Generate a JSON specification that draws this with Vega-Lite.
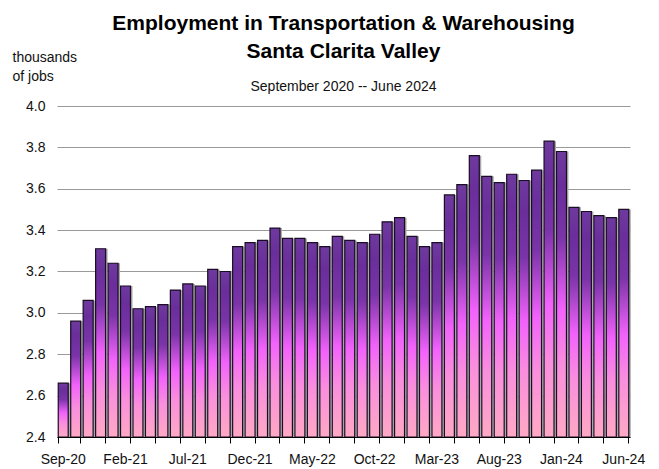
{
  "$schema": "https://vega.github.io/schema/vega-lite/v6.json",
  "autosize": "none",
  "width": 573,
  "height": 331,
  "padding": {"left": 57, "top": 106, "right": 29, "bottom": 32},
  "background": "white",
  "config": {
    "view": {"stroke": null},
    "font": "Liberation Sans",
    "axis": {"labelFont": "Liberation Sans", "titleFont": "Liberation Sans", "labelColor": "#111", "titleColor": "#111"}
  },
  "title": {
    "text": ["Employment in Transportation & Warehousing", "Santa Clarita Valley"],
    "subtitle": "September 2020 -- June 2024",
    "font": "Liberation Sans",
    "fontSize": 21,
    "fontWeight": "bold",
    "lineHeight": 28,
    "color": "#000",
    "subtitleFont": "Liberation Sans",
    "subtitleFontSize": 14,
    "subtitleColor": "#111",
    "subtitlePadding": 18,
    "anchor": "middle",
    "offset": -44
  },
  "data": {
    "values": [
      {"month": "Sep-20", "jobs": 2.66},
      {"month": "Oct-20", "jobs": 2.96},
      {"month": "Nov-20", "jobs": 3.06},
      {"month": "Dec-20", "jobs": 3.31},
      {"month": "Jan-21", "jobs": 3.24},
      {"month": "Feb-21", "jobs": 3.13},
      {"month": "Mar-21", "jobs": 3.02},
      {"month": "Apr-21", "jobs": 3.03},
      {"month": "May-21", "jobs": 3.04},
      {"month": "Jun-21", "jobs": 3.11},
      {"month": "Jul-21", "jobs": 3.14},
      {"month": "Aug-21", "jobs": 3.13},
      {"month": "Sep-21", "jobs": 3.21},
      {"month": "Oct-21", "jobs": 3.20},
      {"month": "Nov-21", "jobs": 3.32},
      {"month": "Dec-21", "jobs": 3.34},
      {"month": "Jan-22", "jobs": 3.35},
      {"month": "Feb-22", "jobs": 3.41},
      {"month": "Mar-22", "jobs": 3.36},
      {"month": "Apr-22", "jobs": 3.36},
      {"month": "May-22", "jobs": 3.34},
      {"month": "Jun-22", "jobs": 3.32},
      {"month": "Jul-22", "jobs": 3.37},
      {"month": "Aug-22", "jobs": 3.35},
      {"month": "Sep-22", "jobs": 3.34},
      {"month": "Oct-22", "jobs": 3.38},
      {"month": "Nov-22", "jobs": 3.44},
      {"month": "Dec-22", "jobs": 3.46},
      {"month": "Jan-23", "jobs": 3.37},
      {"month": "Feb-23", "jobs": 3.32},
      {"month": "Mar-23", "jobs": 3.34},
      {"month": "Apr-23", "jobs": 3.57},
      {"month": "May-23", "jobs": 3.62},
      {"month": "Jun-23", "jobs": 3.76},
      {"month": "Jul-23", "jobs": 3.66},
      {"month": "Aug-23", "jobs": 3.63},
      {"month": "Sep-23", "jobs": 3.67},
      {"month": "Oct-23", "jobs": 3.64},
      {"month": "Nov-23", "jobs": 3.69},
      {"month": "Dec-23", "jobs": 3.83},
      {"month": "Jan-24", "jobs": 3.78},
      {"month": "Feb-24", "jobs": 3.51},
      {"month": "Mar-24", "jobs": 3.49},
      {"month": "Apr-24", "jobs": 3.47},
      {"month": "May-24", "jobs": 3.46},
      {"month": "Jun-24", "jobs": 3.50}
    ]
  },
  "encoding": {
    "x": {
      "field": "month",
      "type": "ordinal",
      "sort": null,
      "scale": {"paddingInner": 0.2, "paddingOuter": 0.1},
      "axis": {
        "title": null,
        "labelAngle": 0,
        "labelFontSize": 14,
        "labelOverlap": false,
        "labelExpr": "indexof(['Sep-20','Feb-21','Jul-21','Dec-21','May-22','Oct-22','Mar-23','Aug-23','Jan-24','Jun-24'], datum.value) >= 0 ? datum.value : ''",
        "labelPadding": 9,
        "domainColor": "#000",
        "domainWidth": 1,
        "tickColor": "#000",
        "tickSize": 6,
        "tickWidth": 1,
        "bandPosition": 1,
        "tickExtra": true,
        "tickOpacity": {"condition": {"test": "datum.extra || test(/^(Oct|Dec|Feb|Apr|Jun|Aug)/, datum.value)", "value": 1}, "value": 0},
        "grid": false,
        "zindex": 1
      }
    },
    "y": {
      "field": "jobs",
      "type": "quantitative",
      "scale": {"domain": [2.4, 4.0], "nice": false, "zero": false},
      "axis": {
        "values": [2.4, 2.6, 2.8, 3.0, 3.2, 3.4, 3.6, 3.8, 4.0],
        "format": ".1f",
        "labelFontSize": 14,
        "labelPadding": 12,
        "domain": false,
        "ticks": false,
        "gridColor": "#9a9a9a",
        "gridWidth": 1,
        "title": ["thousands", "of jobs"],
        "titleAngle": 0,
        "titleAlign": "left",
        "titleBaseline": "alphabetic",
        "titleFontSize": 14,
        "titleFontWeight": "normal",
        "titleLineHeight": 19,
        "titleX": -45,
        "titleY": -45
      }
    },
    "y2": {"datum": 2.4}
  },
  "layer": [
    {
      "mark": {"type": "bar", "color": "#a8a8a8", "xOffset": 2}
    },
    {
      "mark": {
        "type": "bar",
        "stroke": "#1a0d24",
        "strokeWidth": 1.2,
        "color": {
          "gradient": "linear",
          "x1": 0, "y1": 0, "x2": 0, "y2": 1,
          "stops": [
            {"offset": 0, "color": "#6e3a9e"},
            {"offset": 0.12, "color": "#6a2e9b"},
            {"offset": 0.3, "color": "#7a34a8"},
            {"offset": 0.55, "color": "#f262fb"},
            {"offset": 0.75, "color": "#f98fdc"},
            {"offset": 1, "color": "#ffa9c4"}
          ]
        }
      }
    }
  ]
}
